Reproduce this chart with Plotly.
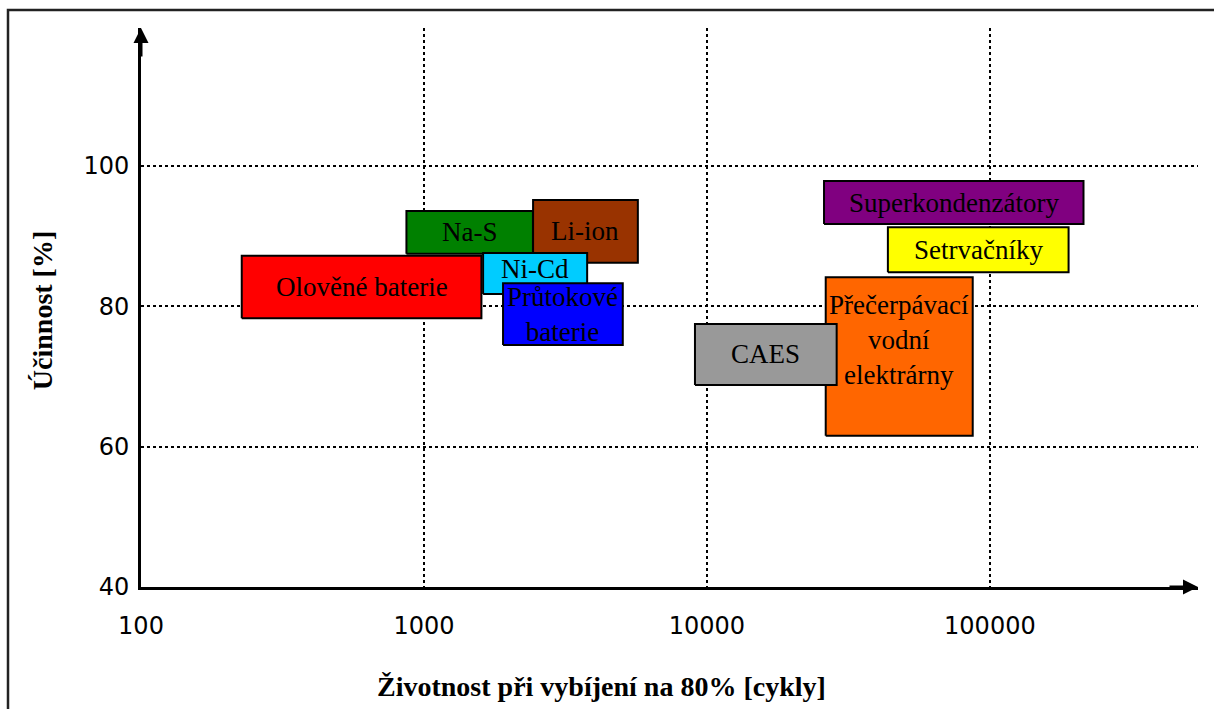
import numpy as np
import plotly.graph_objects as go

# ---- data ----
technologies = ["Na-S", "Li-ion", "Olověné baterie", "Ni-Cd", "Průtokové<br>baterie",
                "Přečerpávací<br>vodní<br>elektrárny", "CAES", "Superkondenzátory", "Setrvačníky"]
cycles_min = [867, 2430, 227, 1618, 1903, 26290, 9073, 25930, 43600]
cycles_max = [2427, 5700, 1596, 3773, 5042, 86960, 28740, 214200, 189700]
efficiency_min = [87.5, 86.2, 78.3, 81.75, 74.5, 61.56, 68.79, 91.73, 84.85]
efficiency_max = [93.6, 95.15, 87.2, 87.6, 83.3, 84.14, 77.48, 97.86, 91.26]
x_tick_values = [100, 1000, 10000, 100000]
x_tick_labels = ["100", "1000", "10000", "100000"]
y_tick_values = [40, 60, 80, 100]
y_tick_labels = ["40", "60", "80", "100"]

# ---- styles ----
fill_colors = ["#008000", "#993300", "#FF0000", "#00CCFF", "#0000FF",
               "#FF6600", "#999999", "#800080", "#FFFF00"]
label_yshift = {"Ni-Cd": 5, "Přečerpávací<br>vodní<br>elektrárny": 16}

SERIF = "Liberation Serif, Times New Roman, serif"
SANS = "DejaVu Sans, Verdana, sans-serif"

fig = go.Figure()
for name, x0, x1, y0, y1, col in zip(technologies, cycles_min, cycles_max,
                                     efficiency_min, efficiency_max, fill_colors):
    fig.add_trace(go.Scatter(
        x=[x0, x1, x1, x0, x0], y=[y0, y0, y1, y1, y0],
        mode="lines", fill="toself", fillcolor=col,
        line=dict(color="black", width=2),
        hoverinfo="skip", showlegend=False, name=name.replace("<br>", " ")))

annotations = []
for name, x0, x1, y0, y1 in zip(technologies, cycles_min, cycles_max,
                                efficiency_min, efficiency_max):
    annotations.append(dict(
        x=np.log10(np.sqrt(x0 * x1)), y=(y0 + y1) / 2, xref="x", yref="y",
        text=name, showarrow=False, yshift=label_yshift.get(name, 0),
        font=dict(family=SERIF, size=27, color="black")))

# axis arrowheads
annotations.append(dict(x=1, y=0, xref="x domain", yref="y domain", text="",
                        showarrow=True, ax=-30, ay=0, arrowhead=2, arrowsize=1,
                        arrowwidth=3, arrowcolor="black", standoff=0))
annotations.append(dict(x=0, y=1, xref="x domain", yref="y domain", text="",
                        showarrow=True, ax=0, ay=30, arrowhead=2, arrowsize=1,
                        arrowwidth=3, arrowcolor="black", standoff=0))
# axis titles
annotations.append(dict(x=(600 - 139) / 1059, y=(587 - 686) / 559, xref="paper", yref="paper",
                        text="Životnost při vybíjení na 80% [cykly]", showarrow=False,
                        xanchor="center", yanchor="middle",
                        font=dict(family=SERIF, size=28, color="black", weight="bold")))
annotations.append(dict(x=(40 - 139) / 1059, y=(587 - 311) / 559, xref="paper", yref="paper",
                        text="Účinnost [%]", showarrow=False, textangle=-90,
                        xanchor="center", yanchor="middle",
                        font=dict(family=SERIF, size=28, color="black", weight="bold")))

grid = dict(showgrid=True, gridcolor="black", griddash="dot", gridwidth=2,
            showline=True, linecolor="black", linewidth=3, zeroline=False,
            tickfont=dict(family=SANS, size=24, color="black"))

fig.update_xaxes(type="log", range=[2, 2 + 1059 / 283.5], tickvals=x_tick_values,
                 ticktext=x_tick_labels, ticks="", ticklabelstandoff=15, **grid)
fig.update_yaxes(range=[40, 40 + 559 / 7.017], tickvals=y_tick_values,
                 ticktext=y_tick_labels, ticks="", ticklabelstandoff=4, **grid)

fig.update_layout(
    width=1214, height=709,
    margin=dict(l=141, r=16, t=28, b=122, autoexpand=False),
    paper_bgcolor="white", plot_bgcolor="white",
    annotations=annotations,
    shapes=[dict(type="rect", xref="paper", yref="paper",
                 x0=(8 - 141) / 1057, x1=(1230 - 141) / 1057,
                 y0=(587 - 730) / 559, y1=(587 - 10) / 559,
                 line=dict(color="#222222", width=2.5), layer="above")],
)

fig.write_html("out.html", config={"displayModeBar": False},
               post_script="document.body.style.margin='0';")
